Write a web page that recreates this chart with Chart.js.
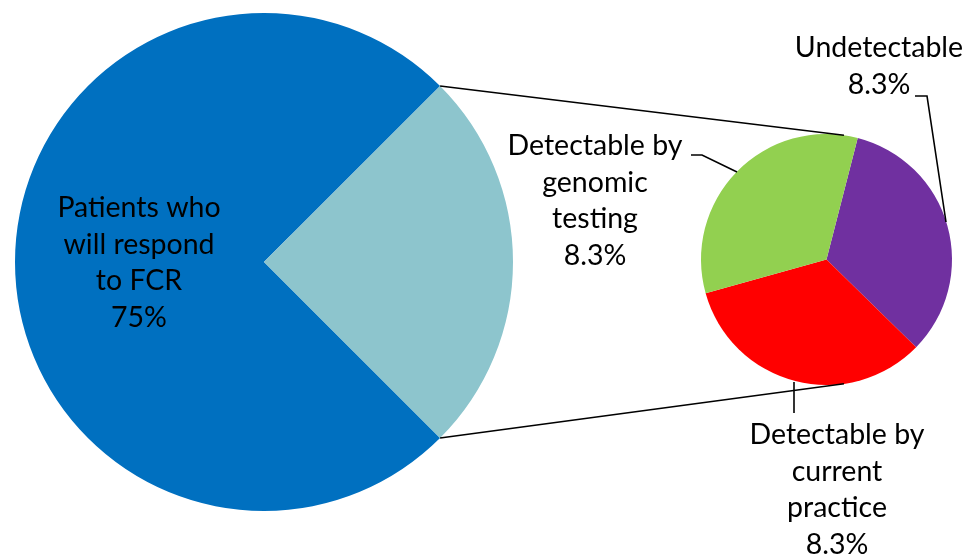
<!DOCTYPE html>
<html lang="en">
<head>
    <meta charset="UTF-8">
    <title>Pie of Pie - FCR response</title>
    <style>
        body {
            margin: 0;
            background: #fff;
        }
        .wrap {
            position: relative;
            width: 969px;
            height: 557px;
        }
        .wrap canvas {
            position: absolute;
            left: 0;
            top: 0;
        }
    </style>
    <script src="https://cdn.jsdelivr.net/npm/chart.js"></script>
</head>
<body>

<div class="wrap">
    <canvas id="mainPie" width="969" height="557"></canvas>
    <canvas id="subPie" width="969" height="557"></canvas>
</div>

<script>
    // main pie
    const mainLabels = ['Patients who will respond to FCR', 'Other'];
    const mainValues = [75, 25];
    const mainColors = ['#0070C0', '#8DC5CD'];

    // secondary pie (splits the 25%)
    const subLabels = ['Undetectable', 'Detectable by current practice', 'Detectable by genomic testing'];
    const subValues = [8.3, 8.3, 8.3];
    const subColors = ['#7030A0', '#FF0000', '#92D050'];

    const FONT = '28.5px Lato, "Open Sans", sans-serif';

    // label text blocks: lines, centre x, first line y, optional leader line
    const labelBoxes = [
        { lines: ['Patients who', 'will respond', 'to FCR', mainValues[0] + '%'], x: 139, y: 208, leader: null },
        { lines: [subLabels[0], subValues[0] + '%'], x: 879, y: 48, leader: [[915, 96], [927, 96], [946, 222]] },
        { lines: ['Detectable by', 'genomic', 'testing', subValues[2] + '%'], x: 595, y: 146, leader: [[691, 155], [702, 155], [737, 172]] },
        { lines: ['Detectable by', 'current', 'practice', subValues[1] + '%'], x: 837, y: 435, leader: [[794, 382], [794, 413]] }
    ];
    const lineGap = 36.5;

    const mainChart = new Chart(document.getElementById('mainPie'), {
        type: 'pie',
        data: {
            labels: mainLabels,
            datasets: [{
                data: mainValues,
                backgroundColor: mainColors,
                borderWidth: 0
            }]
        },
        options: {
            responsive: false,
            animation: false,
            rotation: 135,
            layout: { padding: { left: 15, right: 456, top: 13, bottom: 46 } },
            plugins: { legend: { display: false }, tooltip: { enabled: false } }
        }
    });

    // connectors + labels, drawn on the top canvas
    const overlay = {
        id: 'overlay',
        afterDraw(chart) {
            const ctx = chart.ctx;
            const big = mainChart.getDatasetMeta(0).data[1];
            const small = chart.getDatasetMeta(0).data[0];
            const off = 82 * Math.PI / 180;

            ctx.save();
            ctx.strokeStyle = '#000';
            ctx.lineWidth = 1.6;

            // lines from the light slice edges to the small pie
            const ends = [big.startAngle, big.endAngle];
            const targets = [-off, off];
            for (let i = 0; i < 2; i++) {
                ctx.beginPath();
                ctx.moveTo(big.x + big.outerRadius * Math.cos(ends[i]), big.y + big.outerRadius * Math.sin(ends[i]));
                ctx.lineTo(small.x + small.outerRadius * Math.cos(targets[i]), small.y + small.outerRadius * Math.sin(targets[i]));
                ctx.stroke();
            }

            // leader lines
            labelBoxes.forEach(b => {
                if (!b.leader) return;
                ctx.beginPath();
                b.leader.forEach((p, j) => j ? ctx.lineTo(p[0], p[1]) : ctx.moveTo(p[0], p[1]));
                ctx.stroke();
            });

            // texts
            ctx.fillStyle = '#000';
            ctx.font = FONT;
            ctx.textAlign = 'center';
            ctx.textBaseline = 'middle';
            labelBoxes.forEach(b => {
                b.lines.forEach((t, j) => ctx.fillText(t, b.x, b.y + j * lineGap));
            });
            ctx.restore();
        }
    };

    new Chart(document.getElementById('subPie'), {
        type: 'pie',
        data: {
            labels: subLabels,
            datasets: [{
                data: subValues,
                backgroundColor: subColors,
                borderWidth: 0
            }]
        },
        options: {
            responsive: false,
            animation: false,
            rotation: 14.4,
            layout: { padding: { left: 701, right: 17, top: 134, bottom: 172 } },
            plugins: { legend: { display: false }, tooltip: { enabled: false } }
        },
        plugins: [overlay]
    });
</script>

</body>
</html>
